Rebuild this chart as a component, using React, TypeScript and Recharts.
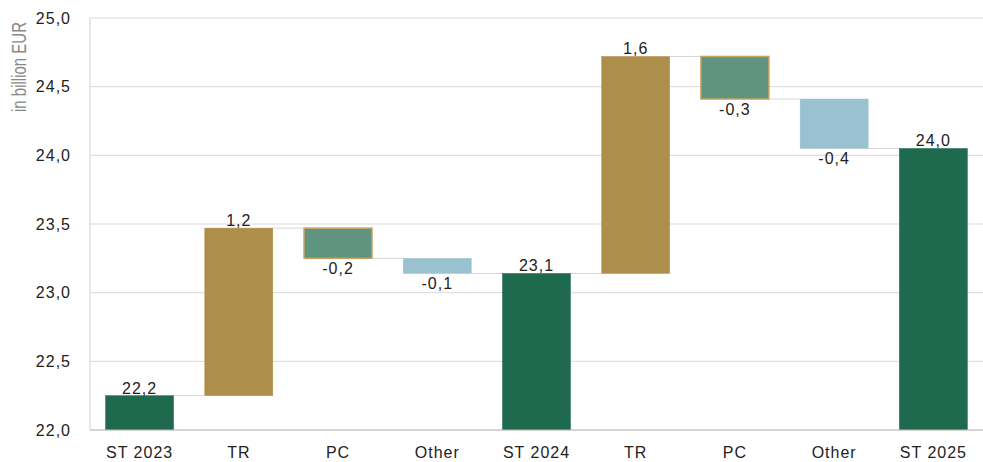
import { BarChart, Bar, XAxis, YAxis, CartesianGrid, Cell, LabelList } from 'recharts';

const categories = ['ST 2023', 'TR', 'PC', 'Other', 'ST 2024', 'TR', 'PC', 'Other', 'ST 2025'];
// where each floating bar starts and ends (billion EUR)
const barStart = [22, 22.25, 23.47, 23.25, 22, 23.14, 24.72, 24.41, 22];
const barEnd = [22.25, 23.47, 23.25, 23.14, 23.14, 24.72, 24.41, 24.05, 24.05];
const valueLabels = ['22,2', '1,2', '-0,2', '-0,1', '23,1', '1,6', '-0,3', '-0,4', '24,0'];
const yTicks = [22, 22.5, 23, 23.5, 24, 24.5, 25];

const GREEN = '#1f6a4f';
const GOLD = '#ad8e4b';
const SAGE = '#5f9580';
const BLUE = '#99c1d0';
const colors = [GREEN, GOLD, SAGE, BLUE, GREEN, GOLD, SAGE, BLUE, GREEN];

const GAP = 0.157;
const FONT = '"Liberation Sans", Arial, sans-serif';

const data = categories.map((name, i) => ({
  name,
  range: [Math.min(barStart[i], barEnd[i]), Math.max(barStart[i], barEnd[i])],
  down: barEnd[i] < barStart[i],
  label: valueLabels[i],
}));

const fmt = (v: number) => v.toFixed(1).replace('.', ',');

function WaterfallBar(props: any) {
  const { x, y, width, height, index, payload, fill } = props;
  const top = Math.min(y, y + height);
  const h = Math.abs(height);
  const endY = payload.down ? top + h : top;
  const gap = (width * 2 * GAP) / (1 - 2 * GAP);
  return (
    <g>
      {index < categories.length - 1 && (
        <line x1={x + width} x2={x + width + gap} y1={endY} y2={endY} stroke="#d6d6d6" strokeWidth={1} />
      )}
      <rect
        x={x}
        y={top}
        width={width}
        height={h}
        fill={fill}
        stroke={fill === SAGE ? '#c7a462' : fill}
        strokeWidth={fill === SAGE ? 1.5 : 0.5}
      />
    </g>
  );
}

function ValueLabel(props: any) {
  const { x, y, width, height, value } = props;
  const top = Math.min(y, y + height);
  const bottom = top + Math.abs(height);
  const neg = String(value).startsWith('-');
  return (
    <text
      x={x + width / 2}
      y={neg ? bottom + 16 : top - 2}
      textAnchor="middle"
      fontSize={16}
      letterSpacing={1}
      fill="#222"
      fontFamily={FONT}
    >
      {value}
    </text>
  );
}

function AxisTitle() {
  return (
    <text
      x={0}
      y={0}
      transform="translate(21, 67) rotate(-90) scale(1, 1.3)"
      textAnchor="middle"
      dominantBaseline="middle"
      fontSize={15}
      fill="#888"
      fontFamily={FONT}
    >
      in billion EUR
    </text>
  );
}

export default function App() {
  return (
    <div>
      <style>{'body{margin:0}'}</style>
      <BarChart
        width={983}
        height={462}
        data={data}
        margin={{ top: 18, right: 0, left: 0, bottom: 0 }}
        barCategoryGap={`${GAP * 100}%`}
      >
        <CartesianGrid vertical={false} stroke="#d9d9d9" />
        <XAxis
          dataKey="name"
          height={32}
          tickLine={false}
          tickSize={6}
          tickMargin={11}
          axisLine={{ stroke: '#bdbdbd' }}
          tick={{ fontSize: 16, fill: '#222', fontFamily: FONT, letterSpacing: 1 }}
          interval={0}
        />
        <YAxis
          width={90}
          domain={[22, 25]}
          ticks={yTicks}
          tickFormatter={fmt}
          tickLine={false}
          tickSize={8}
          tickMargin={11}
          axisLine={{ stroke: '#d0d0d0' }}
          tick={{ fontSize: 16, fill: '#222', fontFamily: FONT, letterSpacing: 1 }}
          label={<AxisTitle />}
          allowDataOverflow
        />
        <Bar dataKey="range" shape={<WaterfallBar />} isAnimationActive={false}>
          {data.map((_, i) => (
            <Cell key={i} fill={colors[i]} />
          ))}
          <LabelList dataKey="label" content={<ValueLabel />} />
        </Bar>
      </BarChart>
    </div>
  );
}
